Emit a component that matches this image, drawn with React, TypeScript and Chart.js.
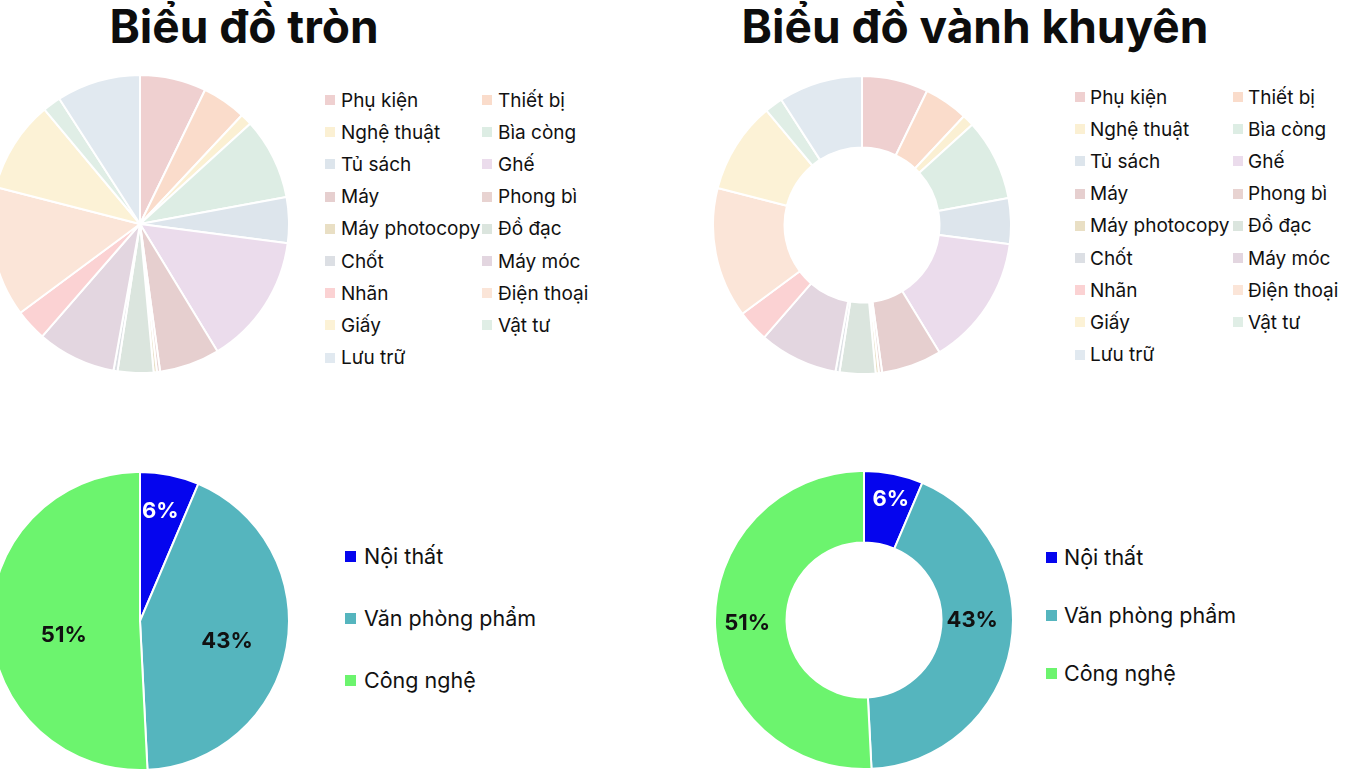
import React, { useEffect, useRef } from "react";
import Chart from "chart.js/auto";

// sub-category shares
const subCategories = [
  "Phụ kiện",
  "Thiết bị",
  "Nghệ thuật",
  "Bìa còng",
  "Tủ sách",
  "Ghế",
  "Máy",
  "Phong bì",
  "Máy photocopy",
  "Đồ đạc",
  "Chốt",
  "Máy móc",
  "Nhãn",
  "Điện thoại",
  "Giấy",
  "Vật tư",
  "Lưu trữ",
];
const subValues = [165, 110, 29, 203, 114, 327, 150, 8, 8, 89, 10, 196, 79, 325, 228, 45, 209];
const subColors = [
  "#efd0d0",
  "#fadccb",
  "#fbf0d3",
  "#ddede4",
  "#dde5ec",
  "#ebdcec",
  "#e6cfcf",
  "#e8d3d1",
  "#e9dfc4",
  "#dbe5de",
  "#dcdfe4",
  "#e3d6e0",
  "#fbd2d3",
  "#fbe5d8",
  "#fcf2d6",
  "#e0eee6",
  "#e1e9f0",
];

const categories = ["Nội thất", "Văn phòng phẩm", "Công nghệ"];
const categoryValues = [6.4, 42.8, 50.8];
const categoryColors = ["#0505ee", "#55b5be", "#6cf46e"];
const categoryLabelColors = ["#ffffff", "#111111", "#111111"];

const FONT = "Inter, 'Noto Sans', sans-serif";

type LabelPos = { frac: number; shift: number };

const percentLabels = (positions: LabelPos[]) => ({
  id: "percentLabels",
  afterDatasetsDraw(chart: any) {
    const { ctx } = chart;
    const meta = chart.getDatasetMeta(0);
    const data = chart.data.datasets[0].data as number[];
    const total = data.reduce((a, b) => a + b, 0);
    ctx.save();
    ctx.font = `bold 22px ${FONT}`;
    ctx.textAlign = "center";
    ctx.textBaseline = "middle";
    meta.data.forEach((arc: any, i: number) => {
      const { x, y, startAngle, endAngle, innerRadius, outerRadius } = arc.getProps(
        ["x", "y", "startAngle", "endAngle", "innerRadius", "outerRadius"],
        true
      );
      const p = positions[i];
      const mid = (startAngle + endAngle) / 2 + (p.shift * Math.PI) / 180;
      const r = innerRadius + (outerRadius - innerRadius) * p.frac;
      ctx.fillStyle = categoryLabelColors[i];
      ctx.fillText(
        `${Math.round((data[i] / total) * 100)}%`,
        x + Math.cos(mid) * r,
        y + Math.sin(mid) * r
      );
    });
    ctx.restore();
  },
});

interface PieProps {
  type: "pie" | "doughnut";
  labels: string[];
  values: number[];
  colors: string[];
  left: number;
  top: number;
  labelPositions?: LabelPos[];
}

const PieCanvas: React.FC<PieProps> = ({ type, labels, values, colors, left, top, labelPositions }) => {
  const canvasRef = useRef<HTMLCanvasElement | null>(null);

  useEffect(() => {
    if (!canvasRef.current) return;
    const chart = new Chart(canvasRef.current, {
      type,
      data: {
        labels,
        datasets: [
          {
            data: values,
            backgroundColor: colors,
            borderColor: "#ffffff",
            borderWidth: 2,
          },
        ],
      },
      options: {
        animation: false,
        responsive: false,
        cutout: type === "doughnut" ? "52%" : 0,
        layout: { padding: 0 },
        plugins: {
          legend: { display: false },
          tooltip: { enabled: false },
        },
      },
      plugins: labelPositions ? [percentLabels(labelPositions)] : [],
    });
    return () => chart.destroy();
  }, []);

  return (
    <canvas
      ref={canvasRef}
      width={300}
      height={300}
      style={{ position: "absolute", left, top, width: 300, height: 300 }}
    />
  );
};

const Legend: React.FC<{
  labels: string[];
  colors: string[];
  left: number;
  top: number;
  columns: number;
  colWidth: number;
  rowHeight: number;
  fontSize: number;
  swatch: number;
  gap: number;
}> = ({ labels, colors, left, top, columns, colWidth, rowHeight, fontSize, swatch, gap }) => (
  <div
    style={{
      position: "absolute",
      left,
      top,
      display: "grid",
      gridTemplateColumns: `repeat(${columns}, ${colWidth}px)`,
      gridAutoRows: `${rowHeight}px`,
      fontFamily: FONT,
      fontSize,
      color: "#111",
    }}
  >
    {labels.map((l, i) => (
      <div key={l} style={{ display: "flex", alignItems: "center", whiteSpace: "nowrap" }}>
        <span
          style={{
            display: "inline-block",
            width: swatch,
            height: swatch,
            background: colors[i],
            marginRight: gap,
            flex: "none",
          }}
        />
        <span>{l}</span>
      </div>
    ))}
  </div>
);

const titleStyle: React.CSSProperties = {
  position: "absolute",
  top: 3,
  fontFamily: FONT,
  fontWeight: 700,
  fontSize: 46,
  lineHeight: "46px",
  color: "#0d0d0d",
  whiteSpace: "nowrap",
  transform: "translateX(-50%)",
};

export default function App() {
  return (
    <div
      style={{
        position: "fixed",
        left: 0,
        top: 0,
        width: 1360,
        height: 784,
        overflow: "hidden",
        background: "#fff",
      }}
    >
      <div style={{ ...titleStyle, left: 244 }}>Biểu đồ tròn</div>
      <div style={{ ...titleStyle, left: 975 }}>Biểu đồ vành khuyên</div>

      <PieCanvas type="pie" labels={subCategories} values={subValues} colors={subColors} left={-10} top={74} />
      <Legend
        labels={subCategories}
        colors={subColors}
        left={325}
        top={84}
        columns={2}
        colWidth={157}
        rowHeight={32.2}
        fontSize={19}
        swatch={10}
        gap={6}
      />

      <PieCanvas type="doughnut" labels={subCategories} values={subValues} colors={subColors} left={712} top={75} />
      <Legend
        labels={subCategories}
        colors={subColors}
        left={1075}
        top={81}
        columns={2}
        colWidth={158}
        rowHeight={32.2}
        fontSize={19}
        swatch={10}
        gap={5}
      />

      <PieCanvas
        type="pie"
        labels={categories}
        values={categoryValues}
        colors={categoryColors}
        left={-10}
        top={471}
        labelPositions={[
          { frac: 0.75, shift: -1 },
          { frac: 0.6, shift: 3 },
          { frac: 0.52, shift: -9 },
        ]}
      />
      <Legend
        labels={categories}
        colors={categoryColors}
        left={345}
        top={525}
        columns={1}
        colWidth={300}
        rowHeight={62}
        fontSize={21.5}
        swatch={11}
        gap={8}
      />

      <PieCanvas
        type="doughnut"
        labels={categories}
        values={categoryValues}
        colors={categoryColors}
        left={714}
        top={470}
        labelPositions={[
          { frac: 0.65, shift: 1 },
          { frac: 0.43, shift: -10 },
          { frac: 0.55, shift: 0 },
        ]}
      />
      <Legend
        labels={categories}
        colors={categoryColors}
        left={1046}
        top={528}
        columns={1}
        colWidth={300}
        rowHeight={58}
        fontSize={21.5}
        swatch={11}
        gap={7}
      />
    </div>
  );
}
